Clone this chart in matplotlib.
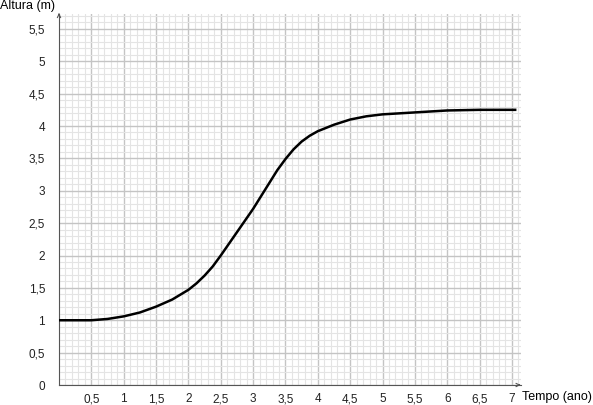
import numpy as np
import matplotlib.pyplot as plt
from matplotlib.ticker import MultipleLocator

plt.rcParams['font.family'] = ['Liberation Sans', 'DejaVu Sans']

# values
tempo = [0, 0.25, 0.5, 0.75, 1, 1.25, 1.5, 1.75, 2, 2.125, 2.25, 2.375, 2.5, 2.75, 3, 3.25,
         3.375, 3.5, 3.625, 3.75, 3.875, 4, 4.25, 4.5, 4.75, 5, 5.5, 6, 6.5, 7, 7.05]
altura = [1.0, 1.0, 1.0, 1.02, 1.06, 1.12, 1.21, 1.32, 1.47, 1.57, 1.69, 1.83, 2.0, 2.36,
          2.72, 3.12, 3.32, 3.49, 3.64, 3.76, 3.85, 3.92, 4.02, 4.1, 4.15, 4.18, 4.21, 4.24,
          4.25, 4.25, 4.25]

xticks = [0.5, 1, 1.5, 2, 2.5, 3, 3.5, 4, 4.5, 5, 5.5, 6, 6.5, 7]
yticks = [0, 0.5, 1, 1.5, 2, 2.5, 3, 3.5, 4, 4.5, 5, 5.5]

def fmt(v):
    return ('%g' % v).replace('.', ',')

fig = plt.figure(figsize=(5.93, 4.05), dpi=100)
ax = fig.add_axes([59/593, 20/405, 462/593, 371/405])
ax.set_xlim(0, 7.14)
ax.set_ylim(0, 5.73)

# graph paper grid
ax.xaxis.set_minor_locator(MultipleLocator(0.1))
ax.yaxis.set_minor_locator(MultipleLocator(0.1))
ax.set_xticks(xticks)
ax.set_yticks(yticks)
ax.grid(which='minor', color='#e4e4e4', lw=0.8)
ax.grid(which='major', color='#c4c4c4', lw=1.0)
ax.set_axisbelow(True)

ax.plot(tempo, altura, color='black', lw=1.8, solid_joinstyle='round', zorder=3)

ax.set_xticklabels([fmt(v) for v in xticks])
ax.set_yticklabels([fmt(v) for v in yticks])
ax.tick_params(which='both', length=0, labelsize=8.5, colors='#222222')
ax.tick_params(axis='x', pad=6)
ax.tick_params(axis='y', pad=10)

for s in ['top', 'right']:
    ax.spines[s].set_visible(False)
for s in ['left', 'bottom']:
    ax.spines[s].set_color('#555555')
    ax.spines[s].set_linewidth(0.8)

# small arrows at the axis ends
ax.annotate('', xy=(1.005, 0), xycoords='axes fraction', xytext=(0.99, 0),
            arrowprops=dict(arrowstyle='->', color='#555555', lw=0.8, mutation_scale=6),
            annotation_clip=False)
ax.annotate('', xy=(0, 1.01), xycoords='axes fraction', xytext=(0, 0.99),
            arrowprops=dict(arrowstyle='->', color='#555555', lw=0.8, mutation_scale=6),
            annotation_clip=False)

fig.text(0, 1 - 6/405, 'Altura (m)', fontsize=9, ha='left', va='center')
fig.text(592/593, 1 - 397/405, 'Tempo (ano)', fontsize=9, ha='right', va='center')

fig.savefig('out.png', dpi=100)
